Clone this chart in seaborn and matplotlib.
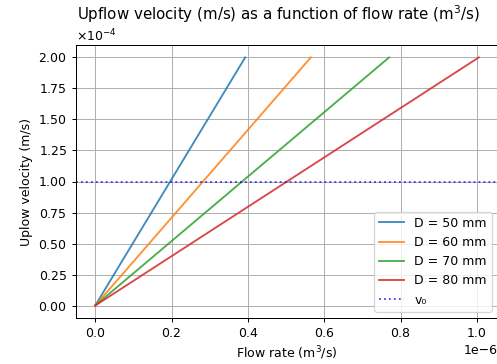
import pandas as pd
import matplotlib
matplotlib.use('Agg')
import matplotlib.pyplot as plt
import seaborn as sns

# pipe diameters and end points of each line (flow rate in m3/s, velocity in m/s)
labels = ['D = 50 mm', 'D = 60 mm', 'D = 70 mm', 'D = 80 mm']
q_end = [0.393e-6, 0.565e-6, 0.770e-6, 1.005e-6]
v_end = [2.0e-4, 2.0e-4, 2.0e-4, 2.0e-4]
v0 = 1.0e-4

colors = sns.color_palette('tab10')[0:4]

DPI = 90
fig = plt.figure(figsize=(497 / DPI, 364 / DPI), dpi=DPI)
ax = fig.add_axes([76 / 497, 46 / 364, 422 / 497, 273 / 364])

for lab, q, v, c in zip(labels, q_end, v_end, colors):
    df = pd.DataFrame({'Q': [0.0, q], 'v': [0.0, v]})
    sns.lineplot(data=df, x='Q', y='v', color=c, label=lab, ax=ax, alpha=0.85)

ax.axhline(v0, color='b', linestyle=':', alpha=0.7, label='v₀')

ax.grid(True)
ax.ticklabel_format(axis='y', style='sci', scilimits=(0, 0), useMathText=True)
ax.set_title('Upflow velocity (m/s) as a function of flow rate (m$^3$/s)', x=0.48)
ax.set_xlabel('Flow rate (m$^3$/s)')
ax.set_ylabel('Uplow velocity (m/s)')
ax.legend(loc='lower right')

fig.savefig('out.png', dpi=DPI)
